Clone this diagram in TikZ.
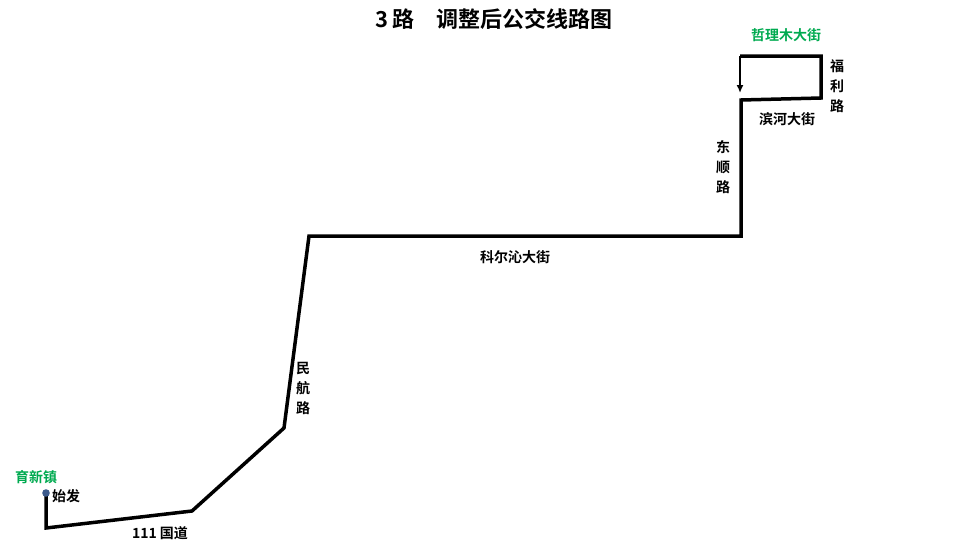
\documentclass[tikz,border=0pt]{standalone}
\usepackage{fontspec}
\usetikzlibrary{arrows.meta}
\setmainfont{Liberation Sans}
\newfontfamily\cjk{Noto Sans CJK SC}[BoldFont={Noto Sans CJK SC Bold}]
\begin{document}
\begin{tikzpicture}[x=1pt,y=-1pt,
  lbl/.style={font=\cjk\bfseries\fontsize{14}{16}\selectfont,inner sep=0pt},
  vlbl/.style={lbl,align=center,font=\cjk\bfseries\fontsize{14}{20}\selectfont},
  grn/.style={lbl,text={rgb,255:red,0;green,170;blue,80}},
  route/.style={line width=3.5pt,line join=miter}]
\useasboundingbox (0,0) rectangle (965,549);
\node[font=\cjk\bfseries\fontsize{22}{26}\selectfont] (title) at (494,19) {3 路\quad 调整后公交线路图};
\coordinate (p0) at (46,493);
\coordinate (p1) at (46,528);
\coordinate (p2) at (192,511);
\coordinate (p3) at (284,428);
\coordinate (p4) at (309,236);
\coordinate (p5) at (741,236);
\coordinate (p6) at (741,100);
\coordinate (p7) at (821,98);
\coordinate (p8) at (821,56);
\coordinate (p9) at (740,56);
\coordinate (p10) at (740,93);
\draw[route] (p0) -- (p1) -- (p2) -- (p3) -- (p4) -- (p5) -- (p6) -- (p7) -- (p8) -- (p9);
\draw[line width=2pt,-{Latex[length=8pt,width=7pt]}] (p9) -- (p10);
\fill[fill={rgb,255:red,60;green,90;blue,140}] (p0) circle (3.8);
\node[grn] (yx) at (36,477) {育新镇};
\node[lbl,anchor=west] (sf) at (52,496) {始发};
\node[lbl] (gd) at (160,533) {111 国道};
\node[vlbl] (mh) at (303,388) {民\\航\\路};
\node[lbl] (ke) at (515,257) {科尔沁大街};
\node[vlbl] (ds) at (723,167) {东\\顺\\路};
\node[lbl] (bh) at (787,119) {滨河大街};
\node[vlbl] (fl) at (837,86) {福\\利\\路};
\node[grn] (zl) at (786,35) {哲理木大街};
\end{tikzpicture}
\end{document}
